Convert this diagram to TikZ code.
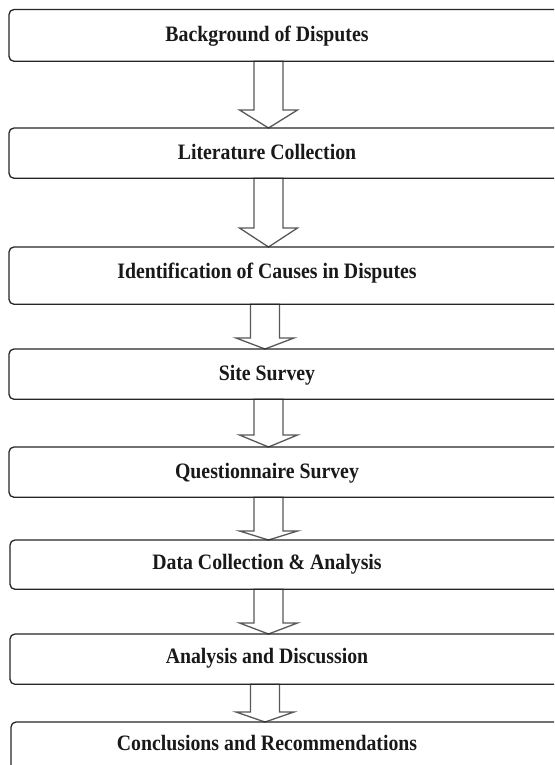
\documentclass[tikz,border=0pt]{standalone}
\usepackage{fontspec}
\setmainfont{Liberation Serif}[FakeStretch=0.9]
\usetikzlibrary{calc}
\tikzset{
  stagebox/.style={draw=black!85, line width=1.3pt, rounded corners=5pt, minimum width=600pt, inner sep=0pt, anchor=north west},
  lbl/.style={font=\bfseries\fontsize{22}{24}\selectfont, text=black!90, inner sep=0pt, anchor=base},
  farr/.style={draw=black!65, line width=1.3pt, fill=white, line join=miter}
}
\newcommand\fatarr[4]{% from, to, centre coordinate, head length
  \draw[farr] ($(#1.south -| #3)+(-14.5,0)$) -- ($(#2.north -| #3)+(-14.5,-#4)$)
    -- ($(#2.north -| #3)+(-29,-#4)$) -- (#2.north -| #3)
    -- ($(#2.north -| #3)+(29,-#4)$) -- ($(#2.north -| #3)+(14.5,-#4)$)
    -- ($(#1.south -| #3)+(14.5,0)$) -- cycle;}
\begin{document}
\begin{tikzpicture}[x=1pt,y=-1pt]
\useasboundingbox (0,0) rectangle (554,765);
\clip (0,0) rectangle (554,765);
\fill[white] (0,0) rectangle (554,765);
\coordinate (ca) at (268.5,0);
\coordinate (cb) at (265,0);
\coordinate (tx) at (267,0);
% boxes (nodes only, drawn after arrows)
\path
  (9,9.5) node[stagebox, minimum height=50.5pt, draw=none] (b1) {}
  (9,128) node[stagebox, minimum height=49pt, draw=none] (b2) {}
  (9,247) node[stagebox, minimum height=56pt, draw=none] (b3) {}
  (9,349) node[stagebox, minimum height=49pt, draw=none] (b4) {}
  (9,447) node[stagebox, minimum height=49pt, draw=none] (b5) {}
  (10,540) node[stagebox, minimum height=48pt, draw=none] (b6) {}
  (10,634) node[stagebox, minimum height=49pt, draw=none] (b7) {}
  (11,722) node[stagebox, minimum height=70pt, draw=none] (b8) {};
% arrows
\fatarr{b1}{b2}{ca}{18}
\fatarr{b2}{b3}{ca}{19}
\fatarr{b3}{b4}{cb}{11}
\fatarr{b4}{b5}{ca}{12}
\fatarr{b5}{b6}{ca}{9}
\fatarr{b6}{b7}{ca}{11}
\fatarr{b7}{b8}{cb}{10}
% box outlines
\foreach \b in {b1,b2,b3,b4,b5,b6,b7,b8}
  \draw[draw=black!85, line width=1.3pt, rounded corners=5pt] (\b.north west) rectangle (\b.south east);
% labels
\node[lbl] (t1) at ($(b1.center -| tx)+(0,6)$) {Background of Disputes};
\node[lbl] (t2) at ($(b2.center -| tx)+(0,6)$) {Literature Collection};
\node[lbl] (t3) at ($(b3.center -| tx)+(0,3)$) {Identification of Causes in Disputes};
\node[lbl] (t4) at ($(b4.center -| tx)+(0,6)$) {Site Survey};
\node[lbl] (t5) at ($(b5.center -| tx)+(0,6)$) {Questionnaire Survey};
\node[lbl] (t6) at ($(b6.center -| tx)+(0,5)$) {Data Collection \& Analysis};
\node[lbl] (t7) at ($(b7.center -| tx)+(0,4)$) {Analysis and Discussion};
\node[lbl] (t8) at ($(b8.north -| tx)+(0,28)$) {Conclusions and Recommendations};
\end{tikzpicture}
\end{document}
